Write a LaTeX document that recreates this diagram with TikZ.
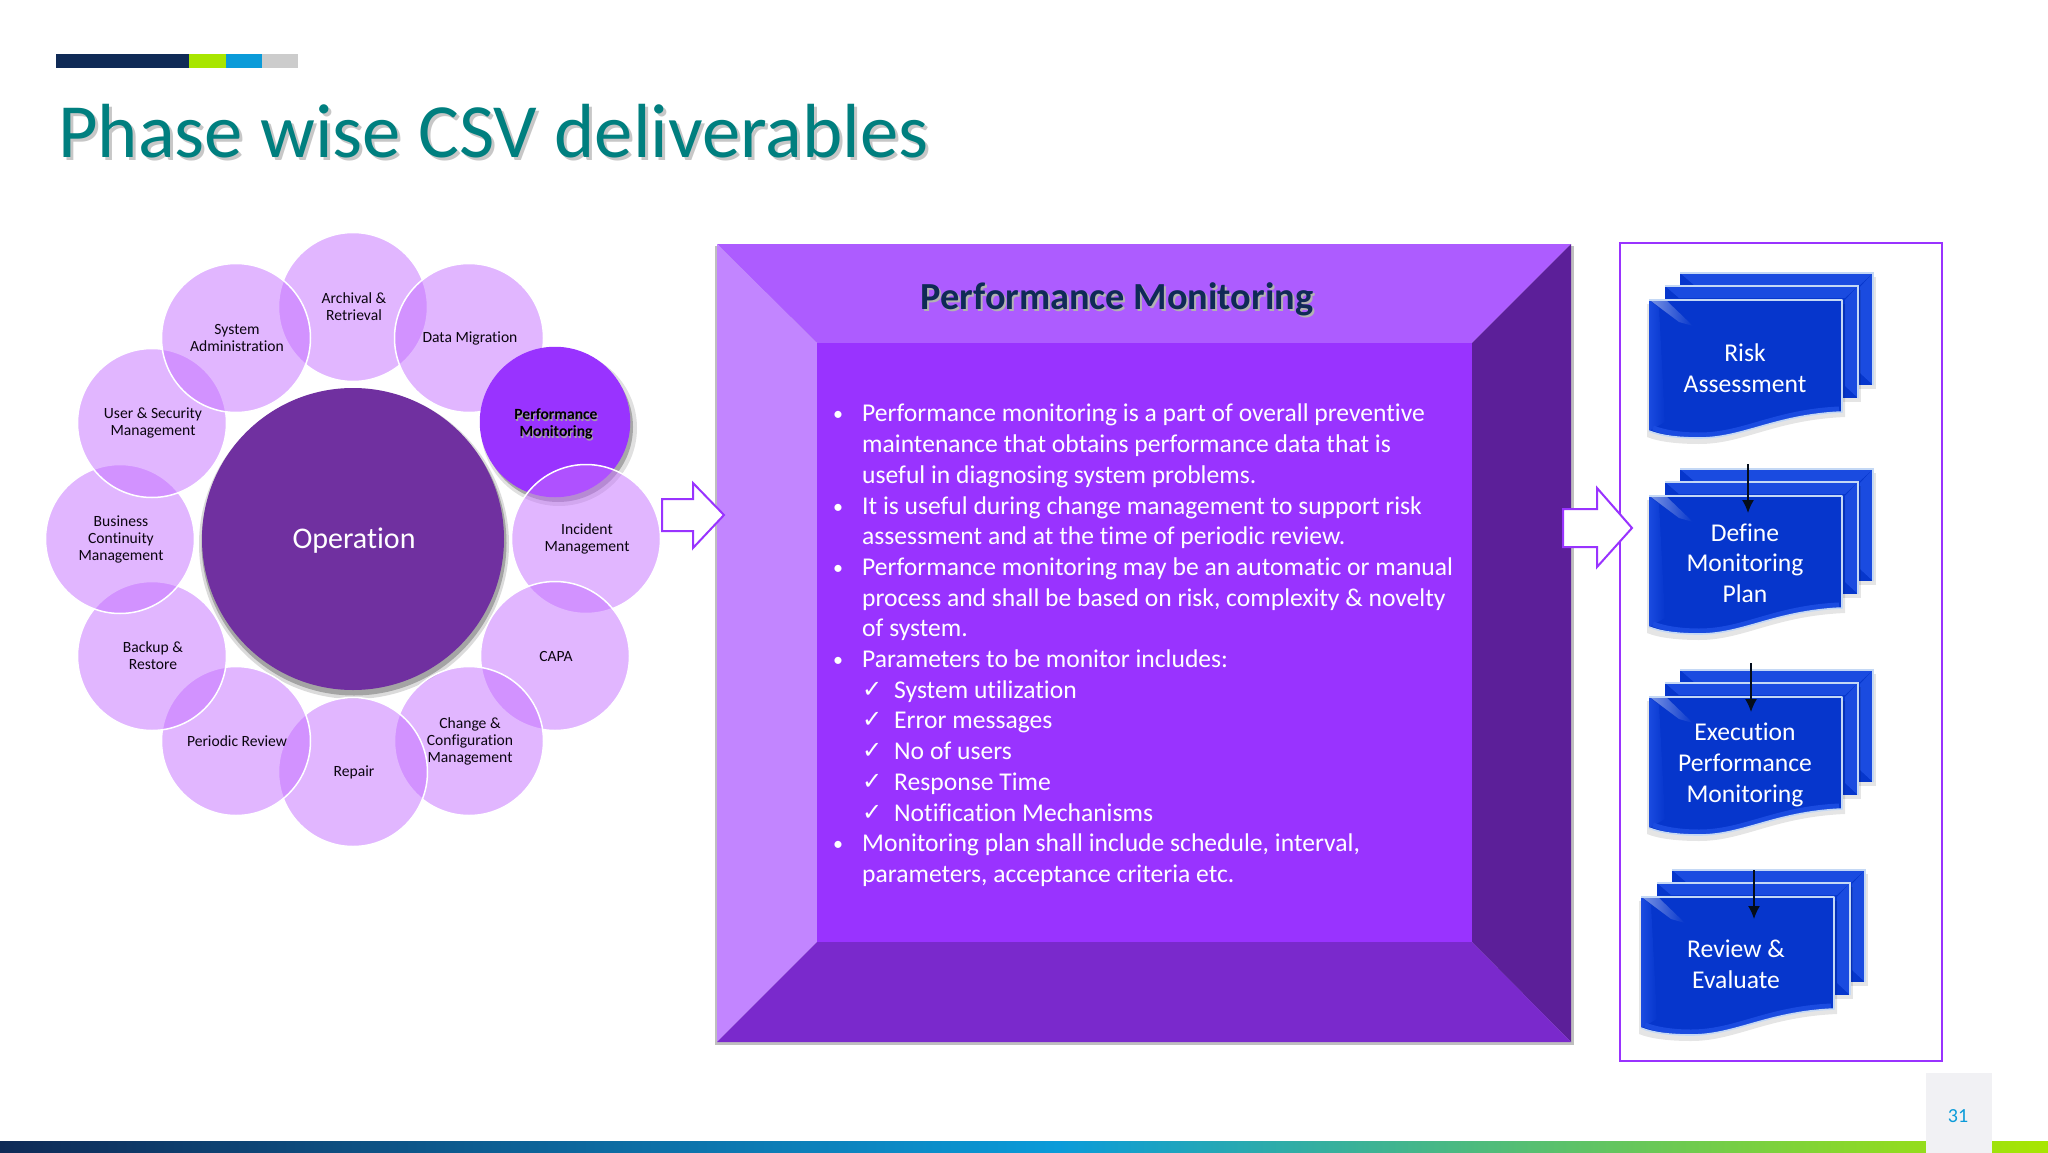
\documentclass[tikz,border=0pt]{standalone}
\usepackage{fontspec}
\setmainfont[Ligatures=NoCommon]{Carlito}
\newfontfamily\symfont{DejaVu Sans}
\usetikzlibrary{arrows.meta,shadings}
\definecolor{tealT}{HTML}{007F7F}
\definecolor{navyB}{HTML}{0F2A56}
\definecolor{limeB}{HTML}{A8E600}
\definecolor{blueB}{HTML}{0B9BD9}
\definecolor{purpleM}{HTML}{9933FF}
\definecolor{purpleD}{HTML}{7030A0}
\definecolor{satfill}{HTML}{C56FFF}
\definecolor{docblue}{HTML}{0636CC}
\definecolor{docbev}{HTML}{1A4BE0}
\definecolor{docedge}{HTML}{C4D8F5}
\definecolor{pagebox}{HTML}{F1F1F4}
\newcommand{\bl}{\makebox[30pt][l]{\hspace{1pt}\raisebox{1pt}{\fontsize{20}{20}\selectfont •}}}
\newcommand{\cn}{\hspace*{30pt}}
\newcommand{\ck}{\hspace*{30pt}\makebox[32pt][l]{\raisebox{1pt}{\symfont\fontsize{24}{24}\selectfont ✓}}}
\tikzset{x=1pt,y=-1pt,
  sat/.style={circle,minimum size=149pt,inner sep=0pt,fill=satfill,fill opacity=.5,draw=white,draw opacity=1,line width=1.5pt},
  sattext/.style={align=center,font=\fontsize{15.6}{17}\selectfont,text=black!90!purpleD,xshift=1pt},
  doctext/.style={align=center,text=white,font=\fontsize{25.6}{30.7}\selectfont},
  blockarrow/.style={fill=white,draw=purpleM,line width=2pt,miter limit=10},
  connector/.style={draw=black!70!navyB,line width=1.5pt,-{Latex[length=13pt,width=12pt]}},
  softshadow/.style={fill=black,opacity=.05},
}
% multi-document symbol: #1 origin x, #2 origin y
\newcommand{\onedoc}[2]{%
  \begin{scope}[shift={(#1,#2)}]
    \fill[softshadow,opacity=.1] (-2,4) -- (196,4) -- (196,117) .. controls (125,120) and (95,144) .. (50,144) .. controls (30,144) and (10,142) .. (-2,137) -- cycle;
    \fill[docblue] (0,0) -- (193,0) -- (193,112) .. controls (125,115) and (95,138) .. (50,138) .. controls (30,138) and (12,136) .. (0,131) -- cycle;
    \shade[left color=docbev,right color=docblue] (0,0) -- (10,8) -- (16,122) -- (0,131) -- cycle;
    \shade[left color=docblue!55!white,right color=docblue] (2,1) -- (18,1) -- (44,26) -- (30,22) -- cycle;
    \draw[docbev,line width=5pt] (4,128) .. controls (14,132) and (30,135) .. (50,135) .. controls (95,135) and (125,112) .. (190,109);
    \draw[docedge,line width=1.6pt,line join=round] (0,0) -- (193,0) -- (193,112) .. controls (125,115) and (95,138) .. (50,138) .. controls (30,138) and (12,136) .. (0,131);
  \end{scope}}
\newcommand{\backdoc}[2]{%
  \begin{scope}[shift={(#1,#2)}]
    \fill[softshadow,opacity=.1] (2,4) rectangle (196,116);
    \fill[docblue] (0,0) rectangle (193,112);
    \fill[docbev] (193,0) -- (180,14) -- (180,100) -- (193,112) -- cycle;
    \fill[docbev] (0,0) -- (193,0) -- (180,12) -- (14,12) -- cycle;
    \draw[docedge,line width=1.6pt] (0,0) -- (193,0) -- (193,112);
  \end{scope}}
\newcommand{\stackdoc}[2]{%
  \backdoc{#1+31}{#2-27}\backdoc{#1+16}{#2-14}\onedoc{#1}{#2}}
\begin{document}
\begin{tikzpicture}
\useasboundingbox (0,0) rectangle (2048,1153);
\fill[white] (0,0) rectangle (2048,1153);
% top strip
\fill[navyB] (56,54) rectangle (189,68);
\fill[limeB] (189,54) rectangle (226,68);
\fill[blueB] (226,54) rectangle (262,68);
\fill[black!20] (262,54) rectangle (298,68);
% bottom strip
\shade[left color=navyB,right color=blueB] (0,1141) rectangle (1058,1153);
\shade[left color=blueB,right color=limeB] (1058,1141) rectangle (2048,1153);
\fill[pagebox] (1926,1073) rectangle (1992,1153);
\node[font=\fontsize{20}{20}\selectfont,text=blueB] (pagenum) at (1958,1116) {31};
% title
\node[anchor=west,inner sep=0pt,text=black!22,font=\fontsize{76.7}{76.7}\selectfont] at (61,134) {Phase wise CSV deliverables};
\node[anchor=west,inner sep=0pt,text=tealT,font=\fontsize{76.7}{76.7}\selectfont] (title) at (58,131) {Phase wise CSV deliverables};
% central circle
\fill[softshadow,opacity=.14] (354,544) circle (155);
\fill[softshadow,opacity=.25] (354,543) circle (152.5);
\node[circle,minimum size=302pt,inner sep=0pt,fill=purpleD] (op) at (353,539) {};
\node[text=white,font=\fontsize{30}{30}\selectfont] at (354,541) {Operation};
% satellites
\node[sat] (archival) at (353,307) {};
\node[sat] (datamig) at (469,338) {};
\fill[softshadow,opacity=.12] (559,428) circle (78);
\fill[softshadow,opacity=.25] (558,427) circle (75);
\node[sat,fill=purpleM,fill opacity=1,draw=purpleM] (perf) at (555,422) {};
\node[sat] (incident) at (586,539) {};
\node[sat] (capa) at (555,656) {};
\node[sat] (change) at (469,741) {};
\node[sat] (repair) at (353,772) {};
\node[sat] (periodic) at (236,741) {};
\node[sat] (backup) at (152,656) {};
\node[sat] (business) at (120,539) {};
\node[sat] (user) at (152,423) {};
\node[sat] (system) at (236,338) {};
\node[sattext] at (archival) {Archival \&\\Retrieval};
\node[sattext] at (datamig) {Data Migration};
\node[sattext,font=\fontsize{15.6}{17}\selectfont\bfseries,text=black!35] at (556,426) {Performance\\Monitoring};
\node[sattext,font=\fontsize{15.6}{17}\selectfont\bfseries,text=black] at (555,424) {Performance\\Monitoring};
\node[sattext] at (incident) {Incident\\Management};
\node[sattext] at (capa) {CAPA};
\node[sattext] at (change) {Change \&\\Configuration\\Management};
\node[sattext] at (353,772) {Repair};
\node[sattext] at (periodic) {Periodic Review};
\node[sattext] at (backup) {Backup \&\\Restore};
\node[sattext] at (business) {Business\\Continuity\\Management};
\node[sattext] at (user) {User \& Security\\Management};
\node[sattext] at (system) {System\\Administration};
% central bevel box
\fill[black!25] (715,246) rectangle (1574,1045);
\fill[purpleM!80!white] (717,244) -- (1571,244) -- (1472,343) -- (817,343) -- cycle;
\fill[purpleM!60!white] (717,244) -- (817,343) -- (817,942) -- (717,1042) -- cycle;
\fill[purpleM!60!black] (1571,244) -- (1472,343) -- (1472,942) -- (1571,1042) -- cycle;
\fill[purpleM!80!black] (717,1042) -- (817,942) -- (1472,942) -- (1571,1042) -- cycle;
\fill[purpleM] (817,343) rectangle (1472,942);
\node[text=black!30,font=\fontsize{38.3}{38.3}\selectfont\bfseries] at (1119,301) {Performance Monitoring};
\node[text=navyB,font=\fontsize{38.3}{38.3}\selectfont\bfseries] (head) at (1117,299) {Performance Monitoring};
\node[anchor=north west,inner sep=0pt,align=left,text=white,font=\fontsize{25.6}{30.7}\selectfont] (body) at (832,404) {%
\bl Performance monitoring is a part of overall preventive\\
\cn maintenance that obtains performance data that is\\
\cn useful in diagnosing system problems.\\
\bl It is useful during change management to support risk\\
\cn assessment and at the time of periodic review.\\
\bl Performance monitoring may be an automatic or manual\\
\cn process and shall be based on risk, complexity \& novelty\\
\cn of system.\\
\bl Parameters to be monitor includes:\\
\ck System utilization\\
\ck Error messages\\
\ck No of users\\
\ck Response Time\\
\ck Notification Mechanisms\\
\bl Monitoring plan shall include schedule, interval,\\
\cn parameters, acceptance criteria etc.};
% block arrow 1
\draw[blockarrow] (662,499) -- (693,499) -- (693,483) -- (724,515) -- (693,548) -- (693,531) -- (662,531) -- cycle;
% right frame
\draw[purpleM,line width=2.5pt,fill=white] (1620,243) rectangle (1942,1061);
% block arrow 2
\draw[blockarrow] (1563,509) -- (1597,509) -- (1597,488) -- (1632,528) -- (1597,567) -- (1597,547) -- (1563,547) -- cycle;
% documents
\stackdoc{1649}{300}
\stackdoc{1649}{496}
\stackdoc{1649}{697}
\stackdoc{1641}{897}
\node[doctext] (d1) at (1745,368) {Risk\\Assessment};
\node[doctext] (d2) at (1745,563) {Define\\Monitoring\\Plan};
\node[doctext] (d3) at (1745,765) {Execution\\Performance\\Monitoring};
\node[doctext] (d4) at (1736,964) {Review \&\\Evaluate};
\coordinate (a1s) at (1748,464); \coordinate (a1e) at (1748,513);
\coordinate (a2s) at (1751,663); \coordinate (a2e) at (1751,712);
\coordinate (a3s) at (1754,870); \coordinate (a3e) at (1754,919);
\draw[connector] (a1s) -- (a1e);
\draw[connector] (a2s) -- (a2e);
\draw[connector] (a3s) -- (a3e);
\end{tikzpicture}
\end{document}
